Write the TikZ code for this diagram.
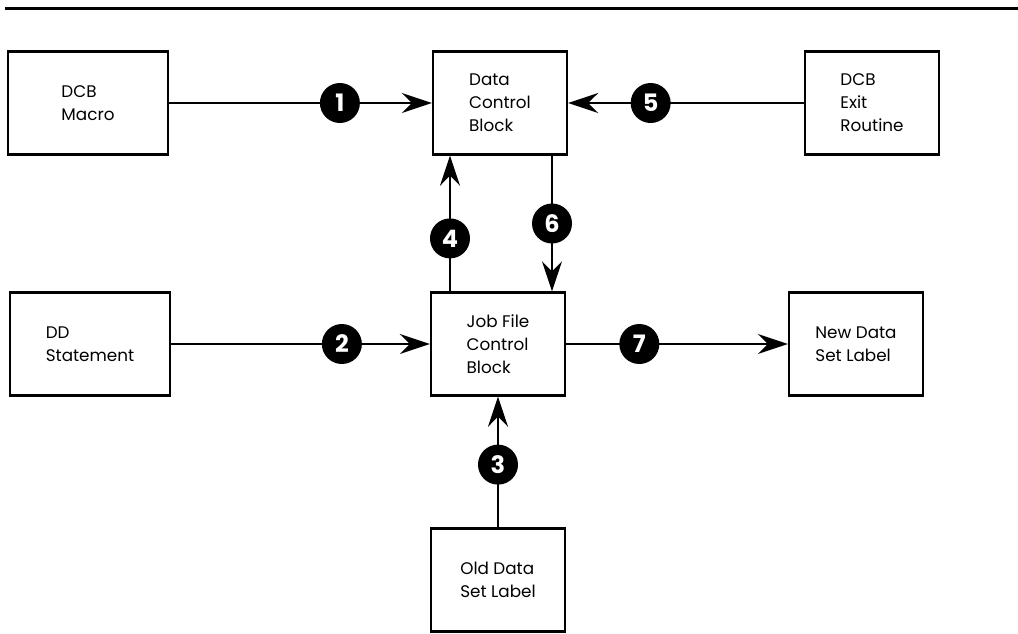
\documentclass[tikz,border=0pt]{standalone}
\usepackage{fontspec}
\setmainfont{Poppins}
\usetikzlibrary{arrows.meta}

\begin{document}
\begin{tikzpicture}[x=0.5pt, y=-0.5pt,
		box/.style={draw, line width=1.2pt, minimum width=67pt, minimum height=51.5pt, align=left, font=\fontsize{8.4}{11.5}\selectfont},
		widebox/.style={box, minimum width=80pt},
		badge/.style={circle, fill=black, text=white, inner sep=0pt, minimum width=19pt, minimum height=20pt, font=\bfseries\fontsize{12}{12}\selectfont},
		flow/.style={line width=1pt, -{Stealth[length=15pt, width=10pt, inset=5pt]}}]
		
		% Fix the page size
		\useasboundingbox (0,0) rectangle (1018,633);
		
		% Draw the rule across the top
		\draw[line width=1.5pt] (5,8) -- (1018,8);
		
		% Place the boxes
		\node[widebox] (macro) at (88,103) {DCB\\Macro};
		\node[box] (dcb) at (500,103) {Data\\Control\\Block};
		\node[box] (exit) at (872,103) {DCB\\Exit\\Routine};
		\node[widebox] (ddstmt) at (90,344) {DD\\Statement};
		\node[box] (jfcb) at (498,344) {Job File\\Control\\Block};
		\node[box] (newlbl) at (856,344) {New Data\\Set Label};
		\node[box] (oldlbl) at (498,580) {Old Data\\Set Label};
		
		% Draw the connectors with their numbers
		\draw[flow] (macro) -- node[badge, pos=0.65] {1} (dcb);
		\draw[flow] (ddstmt) -- node[badge, pos=0.66] {2} (jfcb);
		\draw[flow] (oldlbl) -- node[badge, pos=0.48] {3} (jfcb);
		\draw[flow] ([xshift=-24pt]jfcb.north) -- node[badge, pos=0.39] {4} ([xshift=-25pt]dcb.south);
		\draw[flow] (exit) -- node[badge, pos=0.65] {5} (dcb);
		\draw[flow] ([xshift=26pt]dcb.south) -- node[badge, pos=0.5] {6} ([xshift=27pt]jfcb.north);
		\draw[flow] (jfcb) -- node[badge, pos=0.33] {7} (newlbl);
		
	\end{tikzpicture}
\end{document}
